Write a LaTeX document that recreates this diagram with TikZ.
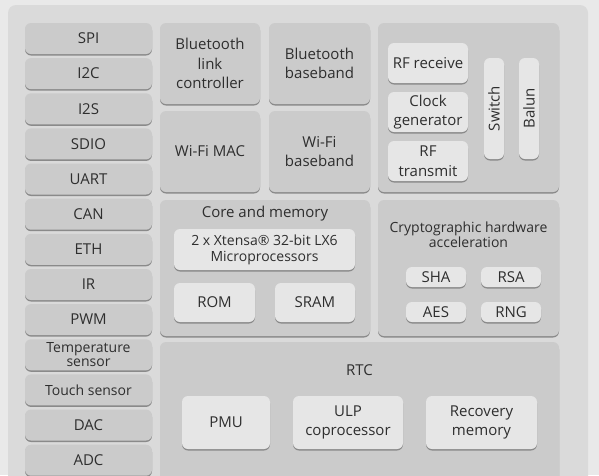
\documentclass[tikz,border=0pt]{standalone}
\usepackage{fontspec}
\setmainfont{Open Sans}
\usetikzlibrary{shadows}

\definecolor{pagebg}{HTML}{E9E9E9}
\definecolor{panelgray}{HTML}{DADADA}
\definecolor{blockgray}{HTML}{CBCBCB}
\definecolor{lightblock}{HTML}{E6E6E6}
\definecolor{shadowgray}{HTML}{8A8A8A}
\definecolor{textgray}{HTML}{2E2E2E}

\tikzset{
  block/.style={rounded corners=6pt, fill=blockgray, text=textgray, align=center, inner sep=0pt,
    font=\fontsize{15}{19.5}\selectfont,
    drop shadow={shadow xshift=0pt, shadow yshift=-1.5pt, fill=shadowgray, opacity=1}},
  subblock/.style={block, fill=lightblock},
  group/.style={block, fill=blockgray},
  title/.style={text=textgray, align=center, font=\fontsize{15}{15.5}\selectfont}
}

\begin{document}
\begin{tikzpicture}[x=1pt, y=-1pt]
    \useasboundingbox (0,0) rectangle (599,475);
    \clip (0,0) rectangle (599,475);
    \fill[pagebg] (0,0) rectangle (599,475);

    % Chip outline
    \fill[panelgray, rounded corners=8pt] (8,5) rectangle (588,520);

    % Peripherals
    \node[block, minimum width=127pt, minimum height=31pt] (spi)  at (88.5,38.5)  {SPI};
    \node[block, minimum width=127pt, minimum height=31pt] (itwoc) at (88.5,73.6)  {I2C};
    \node[block, minimum width=127pt, minimum height=31pt] (itwos) at (88.5,108.8) {I2S};
    \node[block, minimum width=127pt, minimum height=31pt] (sdio) at (88.5,143.9) {SDIO};
    \node[block, minimum width=127pt, minimum height=31pt] (uart) at (88.5,179)   {UART};
    \node[block, minimum width=127pt, minimum height=31pt] (can)  at (88.5,214.2) {CAN};
    \node[block, minimum width=127pt, minimum height=31pt] (eth)  at (88.5,249.3) {ETH};
    \node[block, minimum width=127pt, minimum height=31pt] (ir)   at (88.5,284.5) {IR};
    \node[block, minimum width=127pt, minimum height=31pt] (pwm)  at (88.5,319.6) {PWM};
    \node[block, minimum width=127pt, minimum height=31pt, font=\fontsize{14}{14}\selectfont] (temp) at (88.5,354.8) {Temperature\\sensor};
    \node[block, minimum width=127pt, minimum height=31pt, font=\fontsize{14}{14}\selectfont] (touch) at (88.5,389.9) {Touch sensor};
    \node[block, minimum width=127pt, minimum height=31pt] (dac)  at (88.5,425)   {DAC};
    \node[block, minimum width=127pt, minimum height=31pt] (adc)  at (88.5,460.2) {ADC};

    % Bluetooth and Wi-Fi
    \node[block, minimum width=100pt, minimum height=81pt] (btlink) at (210,63.5)   {Bluetooth\\link\\controller};
    \node[block, minimum width=101pt, minimum height=81pt] (btbase) at (319.5,63.5) {Bluetooth\\baseband};
    \node[block, minimum width=100pt, minimum height=81pt] (wifimac) at (210,151.5)  {Wi-Fi MAC};
    \node[block, minimum width=101pt, minimum height=81pt] (wifibase) at (319.5,151.5) {Wi-Fi\\baseband};

    % Radio
    \node[group, minimum width=181pt, minimum height=169pt] (radio) at (468.5,107.5) {};
    \node[subblock, minimum width=80pt, minimum height=40pt] (rfrx)  at (428,63)  {RF receive};
    \node[subblock, minimum width=80pt, minimum height=40pt] (clock) at (428,112) {Clock\\generator};
    \node[subblock, minimum width=80pt, minimum height=40pt] (rftx)  at (428,161) {RF\\transmit};
    \node[subblock, minimum width=20pt, minimum height=101pt] (switch) at (494,108.5) {};
    \node[subblock, minimum width=20pt, minimum height=101pt] (balun)  at (529,108.5) {};
    \node[title, rotate=90] (switchtext) at (switch.center) {Switch};
    \node[title, rotate=90] (baluntext)  at (balun.center)  {Balun};

    % Core and memory
    \node[group, minimum width=210pt, minimum height=136pt] (core) at (265,268) {};
    \node[title] (coretitle) at (265,214) {Core and memory};
    \node[subblock, minimum width=181pt, minimum height=41pt, font=\fontsize{14}{16}\selectfont] (cpu) at (264.5,249.5) {2 x Xtensa® 32-bit LX6\\Microprocessors};
    \node[subblock, minimum width=81pt, minimum height=39pt] (rom)  at (214.5,302.5) {ROM};
    \node[subblock, minimum width=80pt, minimum height=39pt] (sram) at (315,302.5)   {SRAM};

    % Cryptographic hardware acceleration
    \node[group, minimum width=181pt, minimum height=136pt] (crypto) at (468.5,268) {};
    \node[title, font=\fontsize{14}{15}\selectfont] (cryptotitle) at (468.5,234.5) {Cryptographic hardware\\acceleration};
    \node[subblock, minimum width=60pt, minimum height=20pt] (sha) at (436,277) {SHA};
    \node[subblock, minimum width=60pt, minimum height=20pt] (rsa) at (511,277) {RSA};
    \node[subblock, minimum width=60pt, minimum height=20pt] (aes) at (436,312) {AES};
    \node[subblock, minimum width=60pt, minimum height=20pt] (rng) at (511,312) {RNG};

    % RTC
    \node[group, minimum width=399pt, minimum height=160pt] (rtc) at (359.5,422) {};
    \node[title] (rtctitle) at (359.5,370) {RTC};
    \node[subblock, minimum width=88pt, minimum height=53pt]  (pmu) at (226,422.5)   {PMU};
    \node[subblock, minimum width=110pt, minimum height=53pt] (ulp) at (348,422.5)   {ULP\\coprocessor};
    \node[subblock, minimum width=111pt, minimum height=53pt] (recovery) at (481.5,422.5) {Recovery\\memory};
\end{tikzpicture}
\end{document}
